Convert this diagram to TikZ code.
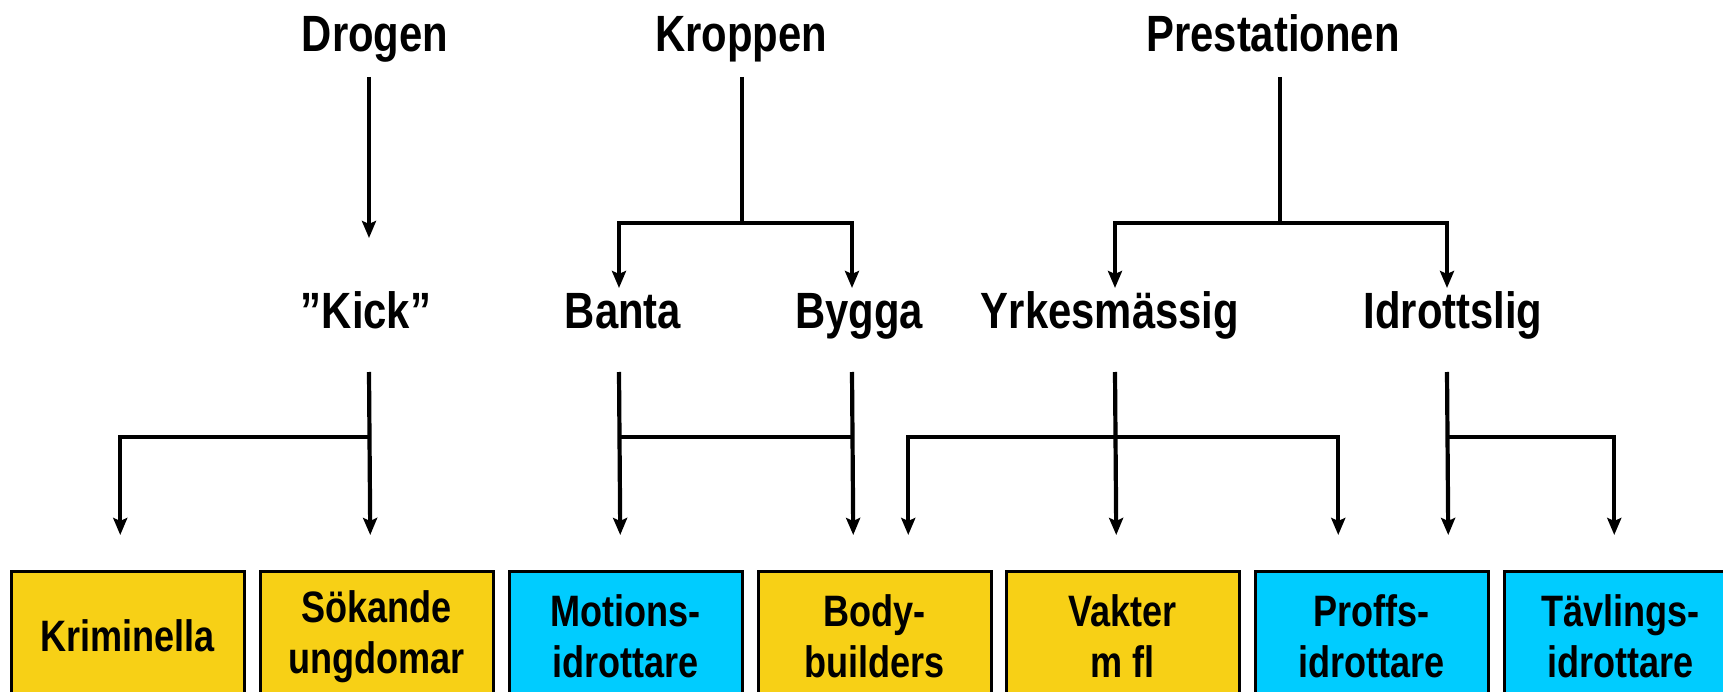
\documentclass[tikz,border=0pt]{standalone}
\usepackage{fontspec}
\usetikzlibrary{arrows.meta}
\newfontfamily\nf{Liberation Sans}[FakeStretch=0.82]
\definecolor{boxyellow}{RGB}{247,208,22}
\definecolor{boxcyan}{RGB}{0,204,255}
\tikzset{
  lbl/.style={inner sep=0pt, anchor=base, font=\nf\bfseries\fontsize{51}{60}\selectfont},
  boxnode/.style={draw=black, line width=2.5pt, minimum width=233pt, minimum height=130pt,
    anchor=north west, inner sep=0pt, align=center,
    font=\nf\bfseries\fontsize{44}{51}\selectfont},
  yel/.style={boxnode, fill=boxyellow},
  cya/.style={boxnode, fill=boxcyan},
  ln/.style={line width=4.2pt, line join=miter},
  arr/.style={ln, -{Stealth[length=17pt,width=14pt,inset=3pt]}}
}
\begin{document}
\begin{tikzpicture}[x=1pt,y=-1pt]
\useasboundingbox (0,0) rectangle (1723,692);
\clip (0,0) rectangle (1723,692);
\fill[white] (0,0) rectangle (1723,692);
% top labels
\node[lbl] (drogen) at (375,52) {Drogen};
\node[lbl] (kroppen) at (741,52) {Kroppen};
\node[lbl] (prest) at (1273,52) {Prestationen};
% middle labels
\node[lbl] (kick) at (366,329) {”Kick”};
\node[lbl] (banta) at (623,329) {Banta};
\node[lbl] (bygga) at (859,329) {Bygga};
\node[lbl] (yrkes) at (1110,329) {Yrkesmässig};
\node[lbl] (idr) at (1453,329) {Idrottslig};
% boxes
\node[yel] (krim) at (10,570) {Kriminella};
\node[yel] (sok) at (259,570) {Sökande\\ungdomar};
\node[cya] (mot) at (508,570) {Motions-\\idrottare};
\node[yel] (body) at (757,570) {Body-\\builders};
\node[yel] (vak) at (1005,570) {Vakter\\m fl};
\node[cya] (proffs) at (1254,570) {Proffs-\\idrottare};
\node[cya] (tav) at (1503,570) {Tävlings-\\idrottare};
% top connectors
\draw[arr] (drogen.base) ++(-6,25) -- ([xshift=3pt,yshift=91pt]kick.base);
\draw[ln] (kroppen.base) ++(1,25) -- ++(0,146) coordinate (kj);
\draw[arr] (kj) -| ([xshift=-4pt,yshift=41pt]banta.base);
\draw[arr] (kj) -| ([xshift=-7pt,yshift=41pt]bygga.base);
\draw[ln] (prest.base) ++(7,25) -- ++(0,146) coordinate (pj);
\draw[arr] (pj) -| ([xshift=5pt,yshift=41pt]yrkes.base);
\draw[arr] (pj) -| ([xshift=-6pt,yshift=41pt]idr.base);
% lower connectors
\draw[arr] (kick.base) ++(3,43) -- ([xshift=-6.5pt,yshift=35pt]sok.north);
\path (kick.base) ++(3,108) coordinate (kj2);
\draw[arr] (kj2) -| ([xshift=-7.5pt,yshift=35pt]krim.north);
\draw[arr] (banta.base) ++(-4,43) -- ([xshift=-5.5pt,yshift=35pt]mot.north);
\draw[arr] (bygga.base) ++(-7,43) -- ([xshift=-21.5pt,yshift=35pt]body.north);
\path (banta.base) ++(-4,108) coordinate (bj);
\path (bygga.base) ++(-7,108) coordinate (gj);
\draw[ln] (bj) -- (gj);
\draw[arr] (yrkes.base) ++(5,43) -- ([xshift=-6.5pt,yshift=35pt]vak.north);
\path (yrkes.base) ++(5,108) coordinate (yj);
\draw[arr] (yj) -| ([xshift=33.5pt,yshift=35pt]body.north);
\draw[arr] (yj) -| ([xshift=-33.5pt,yshift=35pt]proffs.north);
\draw[arr] (idr.base) ++(-6,43) -- ([xshift=76.5pt,yshift=35pt]proffs.north);
\path (idr.base) ++(-6,108) coordinate (ij);
\draw[arr] (ij) -| ([xshift=-6.5pt,yshift=35pt]tav.north);
\end{tikzpicture}
\end{document}
